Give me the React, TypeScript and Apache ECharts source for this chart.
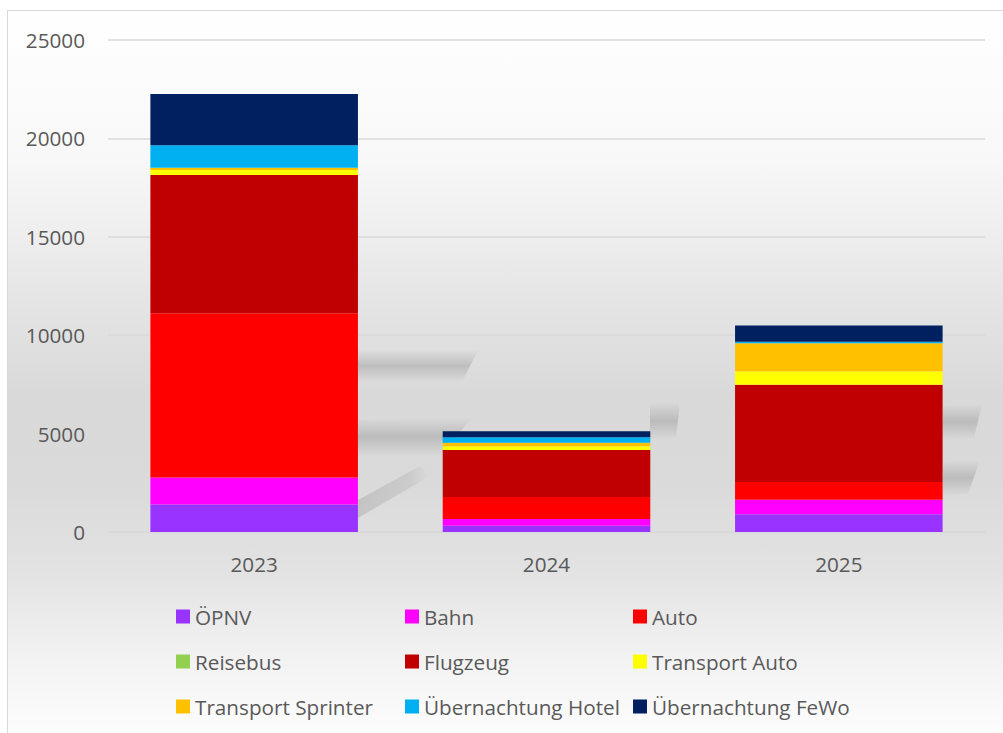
import React, { useEffect, useRef } from "react";
import * as echarts from "echarts";

const categories = ["2023", "2024", "2025"];
const seriesNames = [
  "ÖPNV",
  "Bahn",
  "Auto",
  "Reisebus",
  "Flugzeug",
  "Transport Auto",
  "Transport Sprinter",
  "Übernachtung Hotel",
  "Übernachtung FeWo",
];
const oepnv = [1400, 320, 900];
const bahn = [1370, 340, 740];
const auto = [8350, 1120, 900];
const reisebus = [0, 0, 0];
const flugzeug = [7020, 2390, 4945];
const transportAuto = [250, 190, 680];
const transportSprinter = [120, 170, 1420];
const hotel = [1140, 290, 80];
const fewo = [2610, 300, 830];
const colors = [
  "#9933FF",
  "#FF00FF",
  "#FF0000",
  "#92D050",
  "#C00000",
  "#FFFF00",
  "#FFC000",
  "#00B0F0",
  "#002060",
];
const yTicks = { min: 0, max: 25000, interval: 5000 };

const FONT = "'Open Sans', 'Noto Sans', sans-serif";
const TEXT = "#595959";
const FS = 20.7;

export default function App() {
  const ref = useRef<HTMLDivElement>(null);
  useEffect(() => {
    if (!ref.current) return;
    const chart = echarts.init(ref.current, undefined, { renderer: "svg" });
    const values = [oepnv, bahn, auto, reisebus, flugzeug, transportAuto, transportSprinter, hotel, fewo];
    const legendCols = [176, 405, 633];
    const legendRows = [606, 651, 696];
    const legends = seriesNames.map((n, i) => ({
      data: [n],
      left: legendCols[i % 3],
      top: legendRows[Math.floor(i / 3)],
      padding: 0,
      itemWidth: 14,
      itemHeight: 14,
      icon: "rect",
      selectedMode: false,
      textStyle: { fontFamily: FONT, fontSize: FS, color: TEXT, lineHeight: 20 },
    }));
    // soft decorative smears (reflection artefacts of the original)
    const smear = (points: number[][]) => ({
      type: "polygon",
      z: 1,
      silent: true,
      shape: { points },
      style: {
        fill: new echarts.graphic.LinearGradient(0, 0, 0, 1, [
          { offset: 0, color: "rgba(110,110,110,0)" },
          { offset: 0.5, color: "rgba(110,110,110,0.28)" },
          { offset: 1, color: "rgba(110,110,110,0)" },
        ]),
      },
    });
    const smearH = (points: number[][]) => ({
      type: "polygon",
      z: 1,
      silent: true,
      shape: { points },
      style: {
        fill: new echarts.graphic.LinearGradient(0, 0, 1, 0, [
          { offset: 0, color: "rgba(110,110,110,0.22)" },
          { offset: 0.7, color: "rgba(110,110,110,0.14)" },
          { offset: 1, color: "rgba(110,110,110,0)" },
        ]),
      },
    });
    chart.setOption({
      animation: false,
      backgroundColor: "transparent",
      textStyle: { fontFamily: FONT },
      grid: { left: 108, right: 18, top: 40, bottom: 201, containLabel: false },
      legend: legends,
      graphic: [
        smear([[358, 350], [478, 350], [462, 382], [358, 382]]),
        smear([[358, 420], [472, 418], [440, 455], [358, 456]]),
        smearH([[358, 500], [420, 466], [430, 476], [358, 518]]),
        smear([[650, 404], [680, 402], [676, 438], [650, 440]]),
        smear([[943, 406], [982, 404], [974, 438], [943, 440]]),
        smear([[943, 462], [980, 460], [968, 494], [943, 496]]),
      ],
      xAxis: {
        type: "category",
        data: categories,
        axisLine: { show: true, lineStyle: { color: "#d9d9d9", width: 1.5 } },
        axisTick: { show: false },
        axisLabel: { fontFamily: FONT, fontSize: FS, color: TEXT, margin: 21 },
      },
      yAxis: {
        type: "value",
        min: yTicks.min,
        max: yTicks.max,
        interval: yTicks.interval,
        axisLine: { show: false },
        axisTick: { show: false },
        splitLine: { lineStyle: { color: "#d9d9d9", width: 1.5 } },
        axisLabel: {
          fontFamily: FONT,
          fontSize: FS,
          color: TEXT,
          margin: 23,
          formatter: (v: number) => String(v),
        },
      },
      series: seriesNames.map((n, i) => ({
        name: n,
        type: "bar",
        stack: "total",
        barCategoryGap: "29%",
        data: values[i],
        itemStyle: { color: colors[i] },
        emphasis: { disabled: true },
      })),
    });
    return () => chart.dispose();
  }, []);
  return (
    <div style={{ position: "fixed", left: 0, top: 0, width: 1003, height: 733, overflow: "hidden", background: "#ffffff" }}>
      <div
        style={{
          position: "absolute",
          left: 7,
          top: 10,
          width: 1010,
          height: 740,
          border: "1px solid #d9d9d9",
          background:
            "linear-gradient(180deg, #ffffff 0%, #f8f8f8 20%, #e6e6e6 38%, #d9d9d9 52%, #dadada 64%, #e3e3e3 76%, #f3f3f3 88%, #ffffff 100%)",
        }}
      />
      <div ref={ref} style={{ position: "absolute", left: 0, top: 0, width: 1003, height: 733 }} />
    </div>
  );
}
